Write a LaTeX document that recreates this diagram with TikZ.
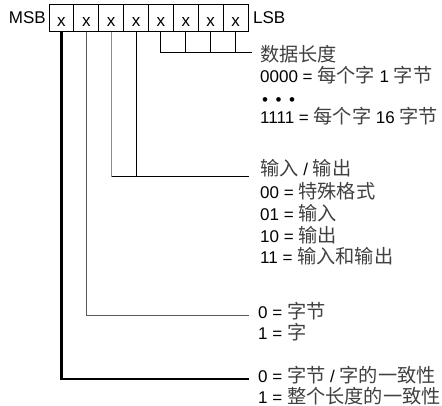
\documentclass[tikz,border=0pt]{standalone}
\usepackage{fontspec}
\setmainfont{Liberation Sans}
\newfontfamily\cjk[Scale=1.13]{Noto Sans CJK SC}
\newcommand\zh[1]{{\cjk\color{black!75}#1}}
\begin{document}
\begin{tikzpicture}[x=1pt,y=-1pt,
  lbl/.style={anchor=base west, inner sep=0pt, font=\fontsize{17}{20}\selectfont},
  cell/.style={draw, line width=1pt, minimum width=24.875pt, minimum height=27pt,
    inner sep=0pt, text height=17pt, text depth=0pt, font=\fontsize{17}{20}\selectfont},
  wire/.style={line width=1pt},
  thick wire/.style={line width=2.4pt},
  lightwire/.style={line width=1pt, draw=black!45},
  midwire/.style={line width=1pt, draw=black!65}]
\useasboundingbox (0,0) rectangle (442,406);
% register cells
\foreach \i in {0,...,7}{
  \node[cell] (c\i) at ({49+24.875*(\i+0.5)},18.5) {x};
}
\node[anchor=base east, inner sep=0pt, font=\fontsize{17}{20}\selectfont] (msb) at (46,24) {MSB};
\node[anchor=base west, inner sep=0pt, font=\fontsize{17}{20}\selectfont] (lsb) at (253,24) {LSB};
% end points
\coordinate (edl) at (252,53);
\coordinate (eio) at (249,177);
\coordinate (ebw) at (249,315);
\coordinate (eco) at (249,379);
% data length
\draw[wire] (c4.south) |- (edl);
\foreach \i in {5,6,7}{ \draw[wire] (c\i.south) -- (c\i.south |- edl); }
% I/O
\draw[wire] (c2.south) |- (eio);
\draw[wire] (c3.south) -- (c3.south |- eio);
\draw[lightwire] (c2.south) -- (c2.south |- eio);
% byte/word
\draw[midwire] (c1.south) |- (ebw);
% consistency
\draw[thick wire] (c0.south) |- (eco);
% texts
\node[lbl] (d1) at (260,62) {\zh{数据长度}};
\node[lbl] (d2) at (260,83) {0000 = \zh{每个字} 1 \zh{字节}};
\node[lbl] (d3) at (262,106) {•\hspace{7.5pt}•\hspace{7.5pt}•};
\node[lbl] (d4) at (260,124) {1111 = \zh{每个字} 16 \zh{字节}};
\node[lbl] (i1) at (260,176) {\zh{输入} / \zh{输出}};
\node[lbl] (i2) at (260,199) {00 = \zh{特殊格式}};
\node[lbl] (i3) at (260,221) {01 = \zh{输入}};
\node[lbl] (i4) at (260,243) {10 = \zh{输出}};
\node[lbl] (i5) at (260,264) {11 = \zh{输入和输出}};
\node[lbl] (b1) at (258,318) {0 = \zh{字节}};
\node[lbl] (b2) at (258,339) {1 = \zh{字}};
\node[lbl] (k1) at (258,382) {0 = \zh{字节} / \zh{字的一致性}};
\node[lbl] (k2) at (258,403) {1 = \zh{整个长度的一致性}};
\end{tikzpicture}
\end{document}
